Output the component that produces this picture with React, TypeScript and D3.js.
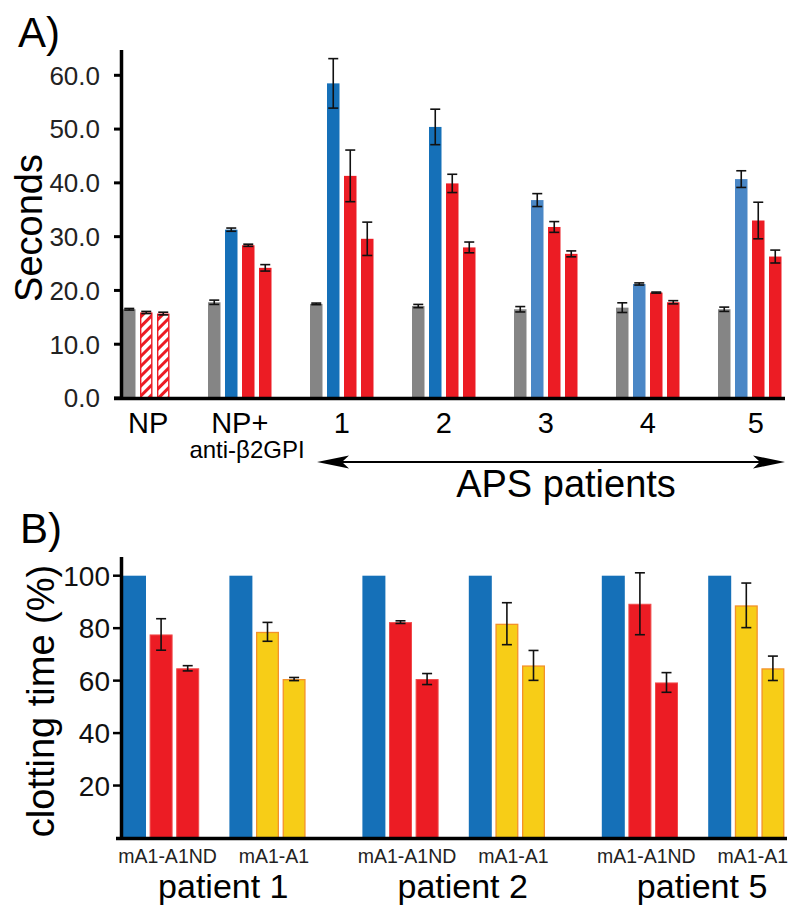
import React from "react";
import * as d3 from "d3";

// ---------- Panel A data ----------
const groupsA = ["NP", "NP+", "1", "2", "3", "4", "5"];
const grayA = [16.5, 17.8, 17.5, 17.1, 16.5, 16.8, 16.5];
const grayErrA = [0.15, 0.4, 0.15, 0.3, 0.5, 0.9, 0.4];
const blueA: (number | null)[] = [null, 31.3, 58.5, 50.4, 36.8, 21.2, 40.7];
const blueErrA: (number | null)[] = [null, 0.3, 4.6, 3.3, 1.2, 0.2, 1.55];
const blueToneA = ["", "dark", "dark", "dark", "light", "light", "light"];
const red1A = [15.9, 28.4, 41.3, 39.9, 31.8, 19.6, 33.0];
const red1ErrA = [0.2, 0.2, 4.8, 1.7, 1.0, 0.1, 3.4];
const red2A = [15.7, 24.2, 29.6, 28.0, 26.8, 17.8, 26.3];
const red2ErrA = [0.25, 0.6, 3.1, 1.0, 0.55, 0.3, 1.2];
const ticksA = [0, 10, 20, 30, 40, 50, 60];

// ---------- Panel B data ----------
const patientsB = ["patient 1", "patient 2", "patient 5"];
const subgroupsB = ["mA1-A1ND", "mA1-A1"];
const controlB = [100, 100, 100];
const ndHighB = [77.6, 82.3, 89.3];
const ndHighErrB = [6.0, 0.5, 11.8];
const ndLowB = [64.7, 60.6, 59.3];
const ndLowErrB = [1.0, 2.1, 3.75];
const a1HighB = [78.6, 81.7, 88.7];
const a1HighErrB = [3.6, 8.0, 8.5];
const a1LowB = [60.6, 65.8, 64.7];
const a1LowErrB = [0.6, 5.7, 4.65];
const ticksB = [20, 40, 60, 80, 100];

const FONT = "'Liberation Sans', Arial, Helvetica, sans-serif";
const GRAY = "#858585";
const BLUE_DARK = "#1570b8";
const BLUE_LIGHT = "#4a87c6";
const RED = "#ec1c24";
const YELLOW = "#f7cd17";
const ORANGE = "#f3912a";

type Bar = { x: number; w: number; v: number; err: number | null; fill: string; stroke?: string; sw?: number };

function ErrBar({ cx, y0, y1 }: { cx: number; y0: number; y1: number }) {
  return (
    <g stroke="#111" strokeWidth={1.6}>
      <line x1={cx} x2={cx} y1={y0} y2={y1} />
      <line x1={cx - 5} x2={cx + 5} y1={y0} y2={y0} />
      <line x1={cx - 5} x2={cx + 5} y1={y1} y2={y1} />
    </g>
  );
}

export default function App() {
  // ----- Panel A scales -----
  const yA = d3.scaleLinear().domain([0, 60]).range([398, 75.3]);
  const xA = d3.scaleLinear().domain([0, 1]).range([123, 140]);
  const bwA = 12.5;
  const barsA: Bar[] = [];
  groupsA.forEach((g, i) => {
    const start = i === 0 ? 0 : 5 + 6 * (i - 1);
    if (i === 0) {
      barsA.push({ x: xA(start), w: bwA, v: grayA[i], err: grayErrA[i], fill: GRAY });
      barsA.push({ x: xA(start + 1), w: bwA, v: red1A[i], err: red1ErrA[i], fill: "url(#hatch)", stroke: RED, sw: 1.4 });
      barsA.push({ x: xA(start + 2), w: bwA, v: red2A[i], err: red2ErrA[i], fill: "url(#hatch)", stroke: RED, sw: 1.4 });
    } else {
      barsA.push({ x: xA(start), w: bwA, v: grayA[i], err: grayErrA[i], fill: GRAY });
      barsA.push({
        x: xA(start + 1), w: bwA, v: blueA[i] as number, err: blueErrA[i],
        fill: blueToneA[i] === "dark" ? BLUE_DARK : BLUE_LIGHT,
      });
      barsA.push({ x: xA(start + 2), w: bwA, v: red1A[i], err: red1ErrA[i], fill: RED });
      barsA.push({ x: xA(start + 3), w: bwA, v: red2A[i], err: red2ErrA[i], fill: RED });
    }
  });
  const groupCenterA = (i: number) => {
    if (i === 0) return (xA(0) + xA(2) + bwA) / 2 + 2;
    const s = 5 + 6 * (i - 1);
    return (xA(s) + xA(s + 3) + bwA) / 2;
  };

  // ----- Panel B scales -----
  const yB = d3.scaleLinear().domain([0, 100]).range([838, 575.7]);
  const xB = d3.scaleLinear().domain([0, 1]).range([123, 149.6]);
  const bwB = 23;
  const barsB: Bar[] = [];
  patientsB.forEach((p, i) => {
    const s0 = i * 9;
    const s1 = i * 9 + 4;
    barsB.push({ x: xB(s0), w: bwB, v: controlB[i], err: null, fill: BLUE_DARK });
    barsB.push({ x: xB(s0 + 1), w: bwB, v: ndHighB[i], err: ndHighErrB[i], fill: RED, stroke: "#f04a4a", sw: 1 });
    barsB.push({ x: xB(s0 + 2), w: bwB, v: ndLowB[i], err: ndLowErrB[i], fill: RED, stroke: "#f04a4a", sw: 1 });
    barsB.push({ x: xB(s1), w: bwB, v: controlB[i], err: null, fill: BLUE_DARK });
    barsB.push({ x: xB(s1 + 1), w: bwB, v: a1HighB[i], err: a1HighErrB[i], fill: YELLOW, stroke: ORANGE, sw: 1.3 });
    barsB.push({ x: xB(s1 + 2), w: bwB, v: a1LowB[i], err: a1LowErrB[i], fill: YELLOW, stroke: ORANGE, sw: 1.3 });
  });

  return (
    <svg width={800} height={920} style={{ position: "absolute", left: 0, top: 0, background: "#fff" }} fontFamily={FONT}>
      <defs>
        <pattern id="hatch" patternUnits="userSpaceOnUse" width={7} height={7} patternTransform="rotate(45)">
          <rect width={7} height={7} fill="#fff" />
          <rect x={0} y={0} width={3} height={7} fill={RED} />
        </pattern>
      </defs>
      <rect width={800} height={920} fill="#fff" />

      {/* ================= Panel A ================= */}
      <text x={18} y={47} fontSize={42}>A)</text>
      <text transform="translate(42,228) rotate(-90)" textAnchor="middle" fontSize={38}>Seconds</text>

      {barsA.map((b, k) => {
        const sw = b.sw ?? 0;
        return (
          <g key={"a" + k}>
            <rect
              x={b.x + sw / 2}
              y={yA(b.v) + sw / 2}
              width={b.w - sw}
              height={yA(0) - yA(b.v) - sw / 2}
              fill={b.fill}
              stroke={b.stroke ?? "none"}
              strokeWidth={sw}
            />
            {b.err != null && (
              <ErrBar cx={b.x + b.w / 2} y0={yA(b.v + b.err)} y1={yA(b.v - b.err)} />
            )}
          </g>
        );
      })}

      {/* axes A */}
      <line x1={121.5} x2={121.5} y1={50} y2={399} stroke="#000" strokeWidth={3.5} />
      <line x1={114} x2={785} y1={398.5} y2={398.5} stroke="#000" strokeWidth={3.5} />
      {ticksA.map((t) => (
        <g key={"ta" + t}>
          <line x1={114} x2={121} y1={yA(t)} y2={yA(t)} stroke="#000" strokeWidth={3} />
          <text x={100} y={yA(t)} dy="0.36em" textAnchor="end" fontSize={26} fill="#222">
            {d3.format(".1f")(t)}
          </text>
        </g>
      ))}
      {groupsA.map((g, i) => (
        <text key={"ga" + g} x={groupCenterA(i) + (i === 6 ? 6 : 0)} y={433} textAnchor="middle" fontSize={29}>
          {g}
        </text>
      ))}
      <text x={247} y={458} textAnchor="middle" fontSize={24}>anti-β2GPI</text>

      {/* arrow */}
      <line x1={325} x2={778} y1={462} y2={462} stroke="#000" strokeWidth={2} />
      <path d="M785,462 L753,455.5 L760,462 L753,468.5 Z" fill="#000" />
      <path d="M317,462 L349,455.5 L342,462 L349,468.5 Z" fill="#000" />
      <text x={566} y={497} textAnchor="middle" fontSize={38}>APS patients</text>

      {/* ================= Panel B ================= */}
      <text x={20} y={543} fontSize={42}>B)</text>
      <text transform="translate(54,701) rotate(-90)" textAnchor="middle" fontSize={38}>clotting time (%)</text>

      {barsB.map((b, k) => {
        const sw = b.sw ?? 0;
        return (
          <g key={"b" + k}>
            <rect
              x={b.x + sw / 2}
              y={yB(b.v) + sw / 2}
              width={b.w - sw}
              height={yB(0) - yB(b.v) - sw / 2}
              fill={b.fill}
              stroke={b.stroke ?? "none"}
              strokeWidth={sw}
            />
            {b.err != null && (
              <ErrBar cx={b.x + b.w / 2} y0={yB(b.v + b.err)} y1={yB(b.v - b.err)} />
            )}
          </g>
        );
      })}

      <line x1={121.5} x2={121.5} y1={557} y2={839} stroke="#000" strokeWidth={3.5} />
      <line x1={116} x2={787} y1={838.5} y2={838.5} stroke="#000" strokeWidth={3.5} />
      {ticksB.map((t) => (
        <g key={"tb" + t}>
          <line x1={113} x2={121} y1={yB(t)} y2={yB(t)} stroke="#000" strokeWidth={2.5} />
          <text x={110} y={yB(t)} dy="0.36em" textAnchor="end" fontSize={28} fill="#111">
            {t}
          </text>
        </g>
      ))}
      {patientsB.map((p, i) =>
        subgroupsB.map((s, j) => {
          const st = i * 9 + j * 4;
          const cx = (xB(st) + xB(st + 2) + bwB) / 2 + 6.5;
          return (
            <text key={p + s} x={cx} y={863} textAnchor="middle" fontSize={19.5} fill="#222">
              {s}
            </text>
          );
        })
      )}
      {patientsB.map((p, i) => {
        const cx = (xB(i * 9) + xB(i * 9 + 6) + bwB) / 2 + 9;
        return (
          <text key={p} x={cx} y={898} textAnchor="middle" fontSize={34}>
            {p}
          </text>
        );
      })}
    </svg>
  );
}
